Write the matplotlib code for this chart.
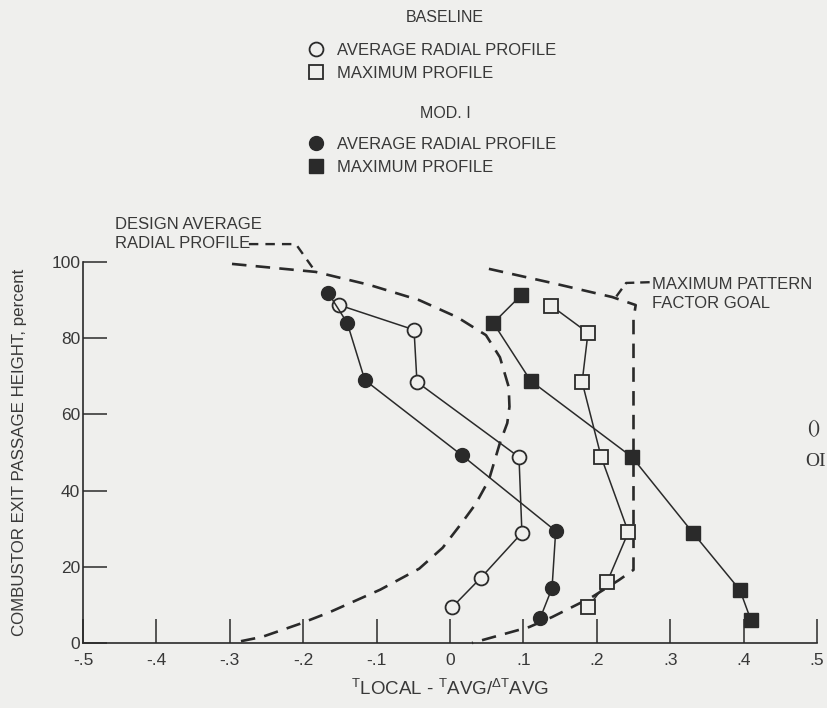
import matplotlib
matplotlib.use("Agg")
import matplotlib.pyplot as plt
from matplotlib.lines import Line2D

plt.rcParams['font.family'] = ['Liberation Sans', 'DejaVu Sans']
plt.rcParams['mathtext.fontset'] = 'custom'
plt.rcParams['mathtext.rm'] = 'Liberation Sans'
plt.rcParams['mathtext.it'] = 'Liberation Sans'
plt.rcParams['mathtext.default'] = 'regular'

# values (x = T_local - T_avg / dT_avg, y = height %)
base_avg_x = [-0.151, -0.049, -0.045, 0.094, 0.098, 0.042, 0.003]
base_avg_y = [88.7, 82.2, 68.5, 48.8, 28.9, 17.1, 9.4]

base_max_x = [0.138, 0.188, 0.180, 0.206, 0.243, 0.214, 0.188]
base_max_y = [88.5, 81.4, 68.5, 48.8, 29.1, 16.0, 9.4]

mod_avg_x = [-0.166, -0.140, -0.116, 0.016, 0.144, 0.139, 0.123]
mod_avg_y = [91.9, 84.0, 69.0, 49.3, 29.4, 14.4, 6.6]

mod_max_x = [0.097, 0.059, 0.110, 0.248, 0.331, 0.395, 0.410]
mod_max_y = [91.3, 84.0, 68.8, 48.8, 28.9, 13.9, 6.0]

# dashed reference curves
design_x = [-0.297, -0.183, -0.110, -0.042, 0.010, 0.049, 0.068, 0.080, 0.081,
            0.078, 0.068, 0.053, 0.035, 0.016, -0.010, -0.042, -0.095, -0.165,
            -0.205, -0.256, -0.297]
design_y = [99.5, 97.4, 94.0, 90.0, 85.5, 80.8, 75.0, 67.2, 62.0,
            57.7, 52.5, 42.8, 36.5, 31.5, 25.0, 19.5, 14.0, 8.0,
            5.0, 1.6, 0.0]

goal_x = [0.053, 0.139, 0.221, 0.253, 0.250, 0.250, 0.230, 0.193, 0.139, 0.108, 0.030]
goal_y = [98.2, 94.5, 90.8, 88.7, 85.0, 19.2, 16.5, 12.0, 6.8, 4.2, 0.0]

xticks = [-0.5, -0.4, -0.3, -0.2, -0.1, 0, 0.1, 0.2, 0.3, 0.4, 0.5]
xtick_labels = ['-.5', '-.4', '-.3', '-.2', '-.1', '0', '.1', '.2', '.3', '.4', '.5']
yticks = [0, 20, 40, 60, 80, 100]

bg = '#efefed'
ink = '#2a2a2a'
txt = '#383838'

fig = plt.figure(figsize=(8.27, 7.08), dpi=100, facecolor=bg)
ax = fig.add_axes([83 / 827, 65 / 708, 734 / 827, 381 / 708])
ax.set_facecolor(bg)

ax.set_xlim(-0.5, 0.5)
ax.set_ylim(0, 100)

dash = dict(color=ink, lw=1.9, dashes=(5.5, 3.5), clip_on=False)
ax.plot(design_x, design_y, **dash)
ax.plot(goal_x, goal_y, **dash)

line_kw = dict(color=ink, lw=1.1, clip_on=False, zorder=3)
ax.plot(base_avg_x, base_avg_y, marker='o', ms=10, mfc=bg, mec=ink, mew=1.3, **line_kw)
ax.plot(base_max_x, base_max_y, marker='s', ms=10, mfc=bg, mec=ink, mew=1.3, **line_kw)
ax.plot(mod_avg_x, mod_avg_y, marker='o', ms=10, mfc=ink, mec=ink, **line_kw)
ax.plot(mod_max_x, mod_max_y, marker='s', ms=10, mfc=ink, mec=ink, **line_kw)

# axes styling
for s in ['top', 'right']:
    ax.spines[s].set_visible(False)
for s in ['left', 'bottom']:
    ax.spines[s].set_linewidth(1.2)
    ax.spines[s].set_color(ink)
ax.set_xticks(xticks)
ax.set_xticklabels(xtick_labels)
ax.set_yticks(yticks)
ax.tick_params(axis='both', direction='in', length=17, width=1.1, color=ink,
               labelsize=12.5, labelcolor=txt)
ax.tick_params(axis='x', pad=7)
ax.tick_params(axis='y', pad=2)

ax.set_ylabel('COMBUSTOR EXIT PASSAGE HEIGHT, percent', fontsize=12.2, color=txt)
ax.yaxis.set_label_coords(-0.076, 0.5)
ax.set_xlabel(r'${}^{T}$LOCAL - ${}^{T}$AVG/${}^{\Delta T}$AVG', fontsize=13.5, color=txt, labelpad=8)

# annotations
ax.text(-0.456, 107.3, 'DESIGN AVERAGE\nRADIAL PROFILE', fontsize=12, color=txt,
        ha='left', va='center', linespacing=1.3)
ax.plot([-0.274, -0.21, -0.185], [104.7, 104.7, 97.9], color=ink, lw=1.7,
        dashes=(4, 3), clip_on=False)
ax.text(0.275, 91.6, 'MAXIMUM PATTERN\nFACTOR GOAL', fontsize=12, color=txt,
        ha='left', va='center', linespacing=1.3)
ax.plot([0.272, 0.24, 0.226], [94.7, 94.5, 90.8], color=ink, lw=1.7,
        dashes=(4, 2.5), clip_on=False)

# legend block at top
fig.text(445 / 827, 1 - 18 / 708, 'BASELINE', fontsize=11.5, color=txt, ha='center', va='center')
fig.text(445 / 827, 1 - 114 / 708, 'MOD. I', fontsize=11.5, color=txt, ha='center', va='center')

h1 = Line2D([], [], ls='none', marker='o', ms=10, mfc=bg, mec=ink, mew=1.3)
h2 = Line2D([], [], ls='none', marker='s', ms=10, mfc=bg, mec=ink, mew=1.3)
h3 = Line2D([], [], ls='none', marker='o', ms=10, mfc=ink, mec=ink)
h4 = Line2D([], [], ls='none', marker='s', ms=10, mfc=ink, mec=ink)
leg_kw = dict(frameon=False, fontsize=12, handlelength=1.0, handletextpad=0.76,
              labelspacing=0.45, borderpad=0, borderaxespad=0, loc='center left',
              labelcolor=txt)
leg1 = fig.legend([h1, h2], ['AVERAGE RADIAL PROFILE', 'MAXIMUM PROFILE'],
                  bbox_to_anchor=(308 / 827, 1 - 62 / 708), **leg_kw)
leg2 = fig.legend([h3, h4], ['AVERAGE RADIAL PROFILE', 'MAXIMUM PROFILE'],
                  bbox_to_anchor=(308 / 827, 1 - 156 / 708), **leg_kw)

# cut-off text from neighbouring page at right edge
fig.text(807 / 827, 1 - 428 / 708, '()', fontsize=14, color=txt, family='Liberation Serif',
         ha='left', va='center')
fig.text(805 / 827, 1 - 462 / 708, 'OI', fontsize=14, color=txt, family='Liberation Serif',
         ha='left', va='center')

fig.savefig('out.png', dpi=100, facecolor=bg)
